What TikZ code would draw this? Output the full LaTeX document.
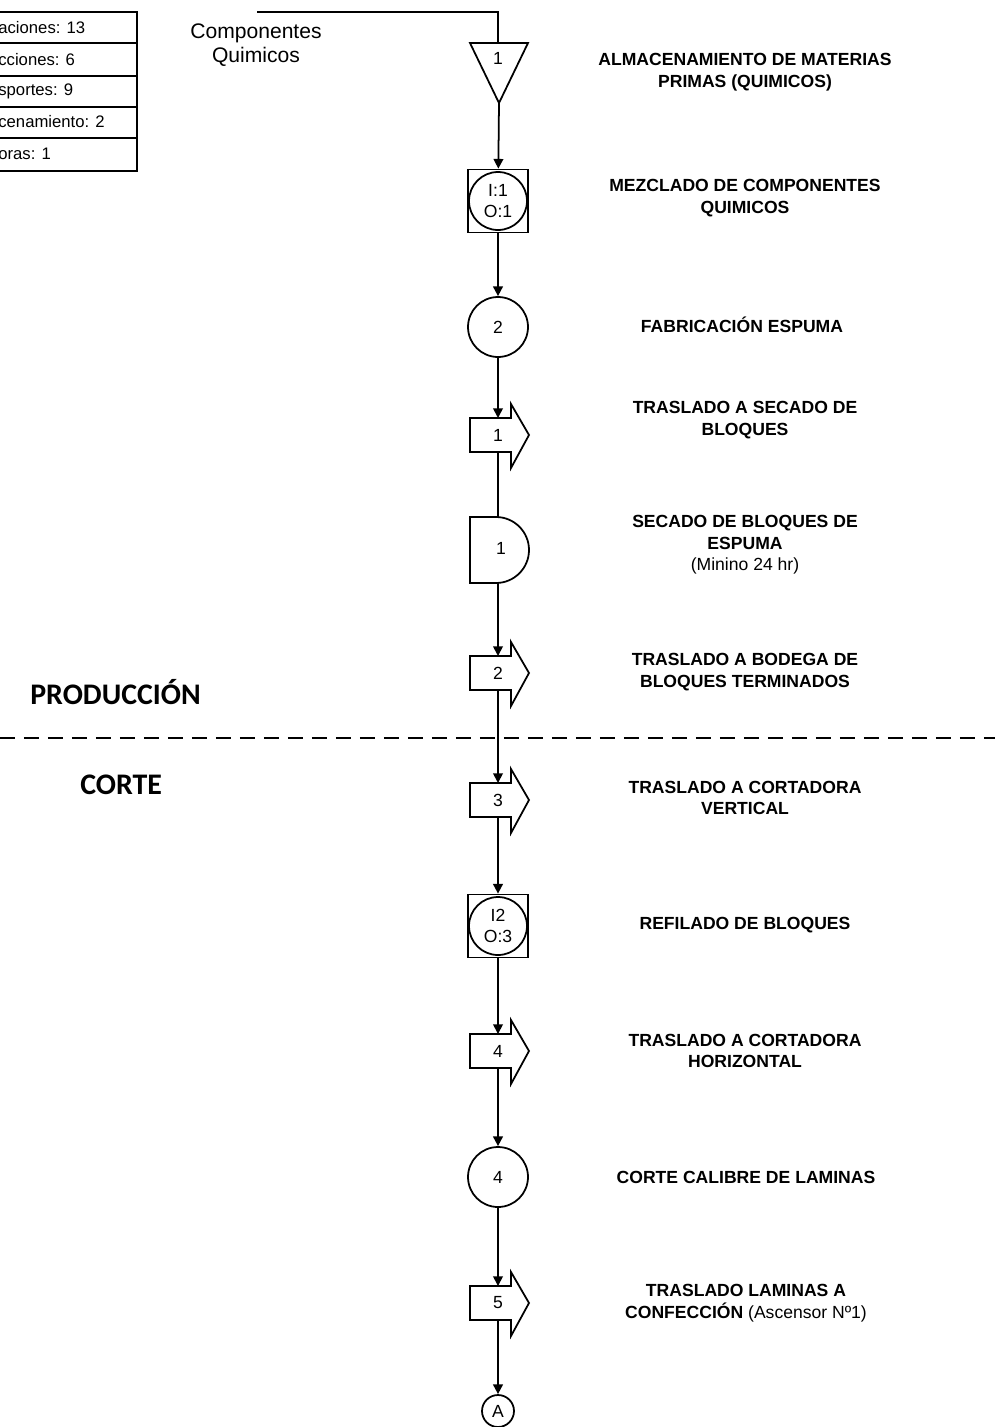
\documentclass[tikz,border=0pt]{standalone}
\usepackage{fontspec}
\setmainfont{Liberation Sans}
\newfontfamily\seccionfont{Carlito}
\usetikzlibrary{arrows.meta, positioning, calc}

\tikzset{
  linea/.style={line width=1pt},
  sym/.style={draw, line width=1pt},
  flecha/.style={line width=1pt, -{Triangle[length=5.5pt,width=5.5pt]}},
  num/.style={font=\fontsize{10}{12}\selectfont, inner sep=0pt, align=center},
  etiqueta/.style={font=\fontsize{10}{12.3}\selectfont\bfseries, align=center},
  tabla/.style={font=\fontsize{9.5}{10}\selectfont, anchor=west, inner sep=0pt},
  seccion/.style={font=\seccionfont\fontsize{17}{19}\selectfont\bfseries, anchor=west, inner sep=0pt},
}

% transport symbol: name, y, number
\newcommand\transporte[3]{%
  \node[num] (#1) at (\lx,#2) {#3};
  \draw[sym] ($(#1)+(13,-17)$) -- ++(-41,0) -- ++(0,34) -- ++(41,0)
    -- ++(0,16) -- ++(18,-33) -- ++(-18,-31) -- cycle;
  \coordinate (#1-n) at ($(#1)+(0,-17)$);
  \coordinate (#1-s) at ($(#1)+(0,17)$);
}

\begin{document}
\begin{tikzpicture}[x=0.02cm, y=-0.02cm]
\def\lx{498}
\useasboundingbox (0,0) rectangle (995,1427);
\clip (0,0) rectangle (995,1427);

% summary table
\draw[linea] (-10,12) rectangle (137,171);
\foreach \f in {43,76,107,138} \draw[linea] (-10,\f) -- (137,\f);
\node[tabla] (tot1) at (-2,28) {aciones: 13};
\node[tabla] (tot2) at (-2,60) {cciones: 6};
\node[tabla] (tot3) at (-2,91) {sportes: 9};
\node[tabla] (tot4) at (-2,122) {cenamiento: 2};
\node[tabla] (tot5) at (-2,154) {oras: 1};

% input
\node[align=center, font=\fontsize{12}{13.5}\selectfont] (comp) at (256,45) {Componentes\\Quimicos};
\coordinate (ent) at (257,12);

% storage
\node[num] (alm) at (\lx,58) {1};
\coordinate (alm-n) at (\lx,43);
\coordinate (alm-s) at (499,103);
\draw[sym] ($(alm-n)+(-28,0)$) -- ($(alm-n)+(30,0)$) -- (alm-s) -- cycle;
\draw[linea] (ent) -| (alm-n);

% mixing
\node[sym, minimum width=1.2cm, minimum height=1.26cm, inner sep=0pt] (op1) at (\lx,201) {};
\node[sym, circle, minimum size=1.16cm, num] (op1c) at (op1) {I:1\\O:1};

% foam
\node[sym, circle, minimum size=1.2cm, num] (op2) at (\lx,327) {2};

\transporte{tr1}{435}{1}

% drying
\node[num] (dem) at (501,548) {1};
\coordinate (dem-n) at (\lx,517);
\coordinate (dem-s) at (\lx,583);
\draw[sym] ($(dem-n)+(-28,0)$) -- ($(dem-n)+(-2,0)$)
  arc[start angle=90, end angle=-90, radius=0.66cm] -- ($(dem-s)+(-28,0)$) -- cycle;

\transporte{tr2}{673}{2}
\transporte{tr3}{800}{3}

% trimming
\node[sym, minimum width=1.2cm, minimum height=1.26cm, inner sep=0pt] (op3) at (\lx,926) {};
\node[sym, circle, minimum size=1.16cm, num] (op3c) at (op3) {I2\\O:3};

\transporte{tr4}{1051}{4}

% cutting
\node[sym, circle, minimum size=1.2cm, num] (op4) at (\lx,1177) {4};

\transporte{tr5}{1303}{5}

% connector
\node[sym, circle, minimum size=0.64cm, num] (conA) at (\lx,1411) {A};

% flow
\draw[flecha] (alm-s) -- (op1);
\draw[flecha] (op1) -- (op2);
\draw[flecha] (op2) -- (tr1-n);
\draw[linea] (tr1-s) -- (dem-n);
\draw[flecha] (dem-s) -- (tr2-n);
\draw[flecha] (tr2-s) -- (tr3-n);
\draw[flecha] (tr3-s) -- (op3);
\draw[flecha] (op3) -- (tr4-n);
\draw[flecha] (tr4-s) -- (op4);
\draw[flecha] (op4) -- (tr5-n);
\draw[flecha] (tr5-s) -- (conA);

% descriptions
\node[etiqueta] (d1) at (745,72) {ALMACENAMIENTO DE MATERIAS\\PRIMAS (QUIMICOS)};
\node[etiqueta] (d2) at (745,198) {MEZCLADO DE COMPONENTES\\QUIMICOS};
\node[etiqueta] (d3) at (742,325) {FABRICACIÓN ESPUMA};
\node[etiqueta] (d4) at (745,420) {TRASLADO A SECADO DE\\BLOQUES};
\node[etiqueta] (d5) at (745,545) {SECADO DE BLOQUES DE\\ESPUMA\\{\mdseries(Minino 24 hr)}};
\node[etiqueta] (d6) at (745,672) {TRASLADO A BODEGA DE\\BLOQUES TERMINADOS};
\node[etiqueta] (d7) at (745,798) {TRASLADO A CORTADORA\\VERTICAL};
\node[etiqueta] (d8) at (745,925) {REFILADO DE BLOQUES};
\node[etiqueta] (d9) at (745,1051) {TRASLADO A CORTADORA\\HORIZONTAL};
\node[etiqueta] (d10) at (746,1177) {CORTE CALIBRE DE LAMINAS};
\node[etiqueta] (d11) at (746,1303) {TRASLADO LAMINAS A\\CONFECCIÓN {\mdseries(Ascensor Nº1)}};

% sections
\draw[line width=1.1pt, dash pattern=on 0.3cm off 0.18cm] (0,738) -- (995,738);
\node[seccion] (prod) at (30,692) {PRODUCCIÓN};
\node[seccion] (corte) at (80,785) {CORTE};
\end{tikzpicture}
\end{document}
